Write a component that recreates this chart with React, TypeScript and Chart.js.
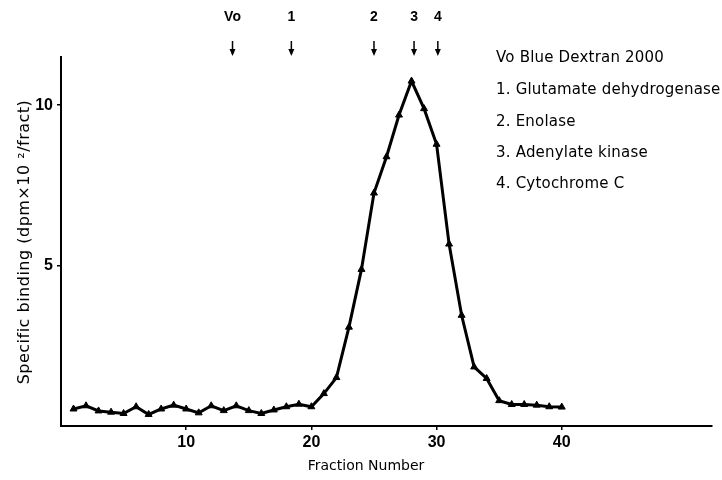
import React, { useEffect, useRef } from "react";
import { Chart, registerables } from "chart.js";

Chart.register(...registerables);

const fractions = [
  1, 2, 3, 4, 5, 6, 7, 8, 9, 10, 11, 12, 13, 14, 15, 16, 17, 18, 19, 20,
  21, 22, 23, 24, 25, 26, 27, 28, 29, 30, 31, 32, 33, 34, 35, 36, 37, 38, 39, 40,
];
const binding = [
  0.53, 0.63, 0.47, 0.43, 0.39, 0.6, 0.36, 0.53, 0.65, 0.53, 0.41, 0.63, 0.48, 0.63, 0.48, 0.39, 0.5, 0.6, 0.68, 0.6,
  1.01, 1.51, 3.08, 4.88, 7.26, 8.39, 9.69, 10.75, 9.89, 8.78, 5.67, 3.45, 1.84, 1.48, 0.79, 0.67, 0.67, 0.65, 0.6, 0.59,
];
const xTicks = [10, 20, 30, 40];
const yTicks = [5, 10];
const markerLabels = ["Vo", "1", "2", "3", "4"];
const markerFractions = [13.7, 18.4, 25.0, 28.2, 30.1];
const legendLines = [
  "Vo Blue Dextran 2000",
  "1. Glutamate dehydrogenase",
  "2. Enolase",
  "3. Adenylate kinase",
  "4. Cytochrome C",
];
const xTitle = "Fraction Number";
const yTitle = "Specific binding (dpm\u00d710 \u00b2/fract)";

const tickFont = "'Liberation Sans Narrow', 'Arial Narrow', 'Liberation Sans', sans-serif";
const textFont = "'DejaVu Sans', sans-serif";

const overlayPlugin = {
  id: "overlay",
  afterDraw(chart: any) {
    const ctx = chart.ctx as CanvasRenderingContext2D;
    const xs = chart.scales.x;
    ctx.save();
    ctx.fillStyle = "#000";
    ctx.strokeStyle = "#000";
    // top markers
    ctx.font = `bold 14px ${tickFont}`;
    ctx.textAlign = "center";
    ctx.textBaseline = "middle";
    markerLabels.forEach((lab, i) => {
      const px = xs.getPixelForValue(markerFractions[i]);
      ctx.fillText(lab, px, 17);
      ctx.lineWidth = 1.5;
      ctx.beginPath();
      ctx.moveTo(px, 41);
      ctx.lineTo(px, 54);
      ctx.stroke();
      ctx.beginPath();
      ctx.moveTo(px - 3, 49);
      ctx.lineTo(px + 3, 49);
      ctx.lineTo(px, 56);
      ctx.closePath();
      ctx.fill();
    });
    // legend text
    ctx.font = `15px ${textFont}`;
    ctx.textAlign = "left";
    const legendY = [58, 90, 122, 153, 184];
    (ctx as any).letterSpacing = "0.2px";
    legendLines.forEach((t, i) => {
      ctx.fillText(t, 496, legendY[i]);
    });
    (ctx as any).letterSpacing = "0px";
    // x title
    ctx.font = `14px ${textFont}`;
    ctx.textAlign = "center";
    ctx.fillText(xTitle, 366, 466);
    // y title
    ctx.save();
    ctx.translate(25, 242);
    ctx.rotate(-Math.PI / 2);
    ctx.font = `16px ${textFont}`;
    (ctx as any).letterSpacing = "0.5px";
    ctx.fillText(yTitle, 0, 0);
    ctx.restore();
    ctx.restore();
  },
};

export default function App() {
  const ref = useRef<HTMLCanvasElement>(null);
  useEffect(() => {
    if (!ref.current) return;
    const chart = new Chart(ref.current, {
      type: "line",
      data: {
        datasets: [
          {
            data: fractions.map((f, i) => ({ x: f, y: binding[i] })),
            borderColor: "#000",
            backgroundColor: "#000",
            borderWidth: 3,
            pointStyle: "triangle",
            pointRadius: 4,
            pointBackgroundColor: "#000",
            pointBorderColor: "#000",
            pointBorderWidth: 1,
            tension: 0,
            fill: false,
          },
        ],
      },
      options: {
        animation: false,
        responsive: false,
        events: [],
        layout: { padding: { top: 57, right: 10, left: 0, bottom: 0 } },
        plugins: { legend: { display: false }, tooltip: { enabled: false } },
        scales: {
          x: {
            type: "linear",
            min: 0,
            max: 52,
            afterFit: (s: any) => {
              s.height = 54;
            },
            afterBuildTicks: (s: any) => {
              s.ticks = xTicks.map((v) => ({ value: v }));
            },
            grid: {
              display: true,
              drawOnChartArea: false,
              drawTicks: true,
              tickLength: 4,
              color: "#000",
              lineWidth: 1.5,
            },
            border: { display: true, color: "#000", width: 2 },
            ticks: {
              color: "#000",
              padding: 3,
              font: { family: tickFont, size: 16, weight: "bold" },
              maxRotation: 0,
            },
          },
          y: {
            type: "linear",
            min: 0,
            max: 11.5,
            afterFit: (s: any) => {
              s.width = 61;
            },
            afterBuildTicks: (s: any) => {
              s.ticks = yTicks.map((v) => ({ value: v }));
            },
            grid: {
              display: true,
              drawOnChartArea: false,
              drawTicks: true,
              tickLength: 4,
              color: "#000",
              lineWidth: 1.5,
            },
            border: { display: true, color: "#000", width: 2 },
            ticks: {
              color: "#000",
              padding: 4,
              font: { family: tickFont, size: 16, weight: "bold" },
            },
          },
        },
      },
      plugins: [overlayPlugin],
    } as any);
    return () => chart.destroy();
  }, []);
  return (
    <div style={{ position: "absolute", left: 0, top: 0, width: 722, height: 480, background: "#fff" }}>
      <canvas ref={ref} width={722} height={480} />
    </div>
  );
}
